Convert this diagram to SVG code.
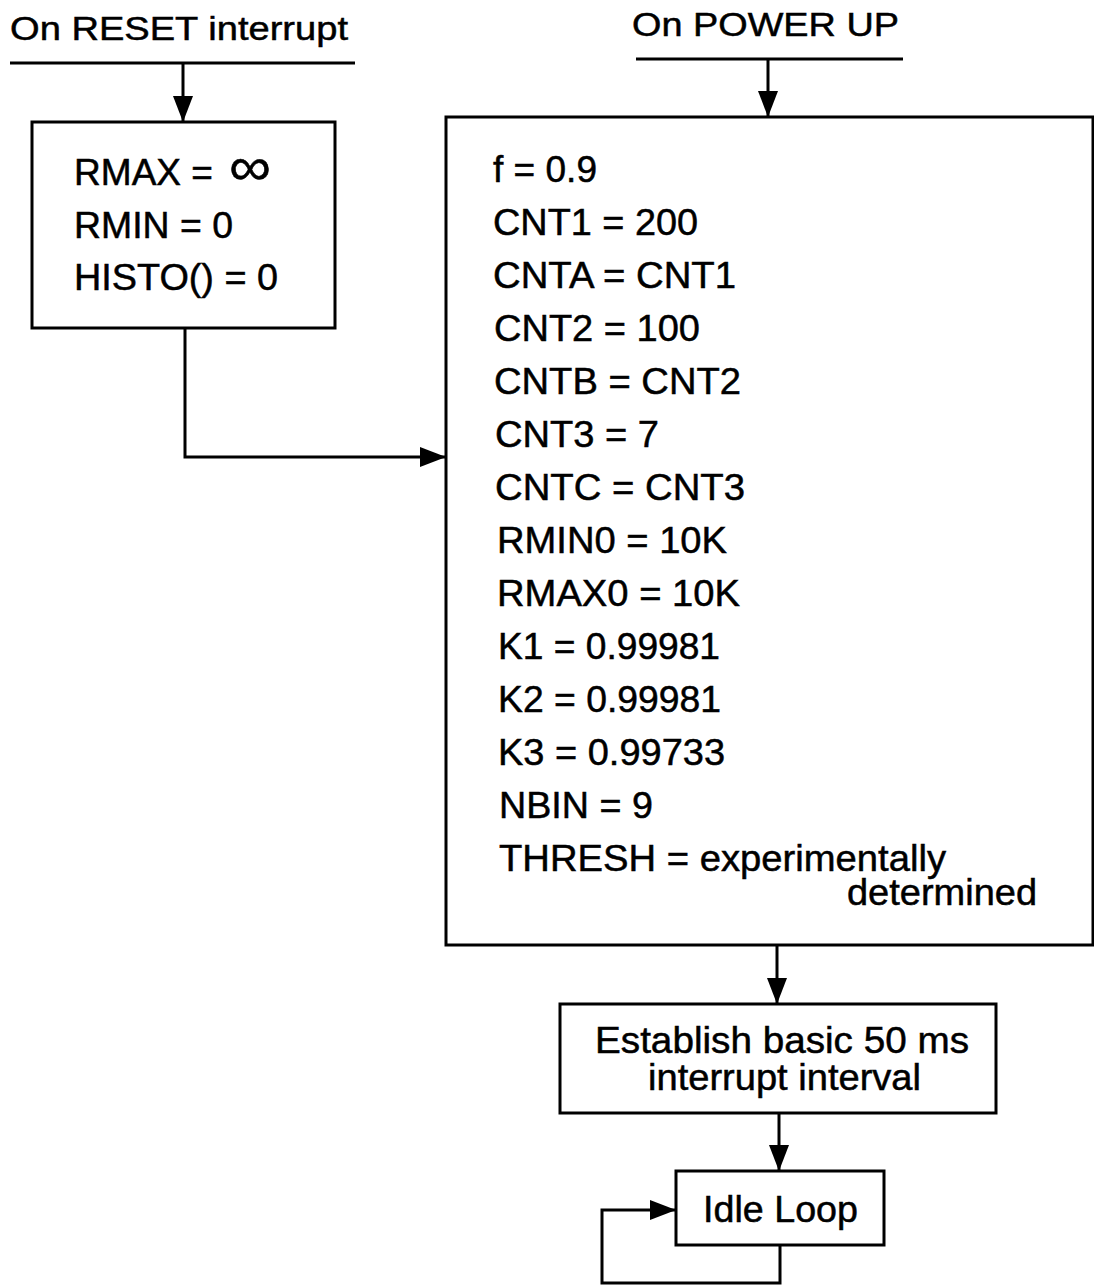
<svg xmlns="http://www.w3.org/2000/svg" width="1094" height="1286" viewBox="0 0 1094 1286">
<style>
text{font-family:"Liberation Sans",Arial,Helvetica,sans-serif;fill:#000;stroke:#000;stroke-width:0.5}
.t{font-size:34px}
.b{font-size:37px}
.m{font-size:36px}
.box{fill:#fff;stroke:#000;stroke-width:3}
.ln{fill:none;stroke:#000;stroke-width:3}
</style>
<defs>
<marker id="ah" viewBox="0 0 26 20" refX="26" refY="10" markerWidth="26" markerHeight="20" markerUnits="userSpaceOnUse" orient="auto">
<path d="M0,0 L26,10 L0,20 Z" fill="#000"/>
</marker>
</defs>
<rect width="1094" height="1286" fill="#fff"/>
<g id="reset-label">
<text class="t" x="10" y="40" textLength="338" lengthAdjust="spacingAndGlyphs">On RESET interrupt</text>
<line class="ln" x1="10" y1="63" x2="355" y2="63"/>
</g>
<g id="powerup-label">
<text class="t" x="632" y="36" textLength="267" lengthAdjust="spacingAndGlyphs">On POWER UP</text>
<line class="ln" x1="636" y1="59" x2="903" y2="59"/>
</g>
<g id="reset-box">
<rect class="box" x="32" y="122" width="303" height="206"/>
<text class="b" x="74" y="185" textLength="139" lengthAdjust="spacingAndGlyphs">RMAX =</text>
<text x="229" y="185" style="font-size:54px" textLength="42" lengthAdjust="spacingAndGlyphs">∞</text>
<text class="b" x="74" y="238" textLength="159" lengthAdjust="spacingAndGlyphs">RMIN = 0</text>
<text class="b" x="74" y="290" textLength="204" lengthAdjust="spacingAndGlyphs">HISTO() = 0</text>
</g>
<g id="powerup-box">
<rect class="box" x="446" y="117" width="647" height="828"/>
<text class="b" x="493" y="182" textLength="104" lengthAdjust="spacingAndGlyphs">f = 0.9</text>
<text class="b" x="493" y="235" textLength="205" lengthAdjust="spacingAndGlyphs">CNT1 = 200</text>
<text class="b" x="493" y="288" textLength="243" lengthAdjust="spacingAndGlyphs">CNTA = CNT1</text>
<text class="b" x="494" y="341" textLength="206" lengthAdjust="spacingAndGlyphs">CNT2 = 100</text>
<text class="b" x="494" y="394" textLength="247" lengthAdjust="spacingAndGlyphs">CNTB = CNT2</text>
<text class="b" x="495" y="447" textLength="164" lengthAdjust="spacingAndGlyphs">CNT3 = 7</text>
<text class="b" x="495" y="500" textLength="250" lengthAdjust="spacingAndGlyphs">CNTC = CNT3</text>
<text class="b" x="497" y="553" textLength="230" lengthAdjust="spacingAndGlyphs">RMIN0 = 10K</text>
<text class="b" x="497" y="606" textLength="243" lengthAdjust="spacingAndGlyphs">RMAX0 = 10K</text>
<text class="b" x="498" y="659" textLength="222" lengthAdjust="spacingAndGlyphs">K1 = 0.99981</text>
<text class="b" x="498" y="712" textLength="223" lengthAdjust="spacingAndGlyphs">K2 = 0.99981</text>
<text class="b" x="498" y="765" textLength="227" lengthAdjust="spacingAndGlyphs">K3 = 0.99733</text>
<text class="b" x="499" y="818" textLength="154" lengthAdjust="spacingAndGlyphs">NBIN = 9</text>
<text class="b" x="499" y="871" textLength="447" lengthAdjust="spacingAndGlyphs">THRESH = experimentally</text>
<text class="b" x="847" y="905" textLength="190" lengthAdjust="spacingAndGlyphs">determined</text>
</g>
<g id="interval-box">
<rect class="box" x="560" y="1004" width="436" height="109"/>
<text class="m" x="595" y="1053" textLength="374" lengthAdjust="spacingAndGlyphs">Establish basic 50 ms</text>
<text class="m" x="648" y="1090" textLength="273" lengthAdjust="spacingAndGlyphs">interrupt interval</text>
</g>
<g id="idle-box">
<rect class="box" x="676" y="1171" width="208" height="74"/>
<text class="m" x="703" y="1222" textLength="155" lengthAdjust="spacingAndGlyphs">Idle Loop</text>
</g>
<g id="connectors">
<line class="ln" x1="183" y1="63" x2="183" y2="122" marker-end="url(#ah)"/>
<line class="ln" x1="768" y1="59" x2="768" y2="117" marker-end="url(#ah)"/>
<polyline class="ln" points="185,328 185,457 446,457" marker-end="url(#ah)"/>
<line class="ln" x1="777" y1="945" x2="777" y2="1004" marker-end="url(#ah)"/>
<line class="ln" x1="779" y1="1113" x2="779" y2="1171" marker-end="url(#ah)"/>
<polyline class="ln" points="780,1245 780,1283 602,1283 602,1210 676,1210" marker-end="url(#ah)"/>
</g>
</svg>
